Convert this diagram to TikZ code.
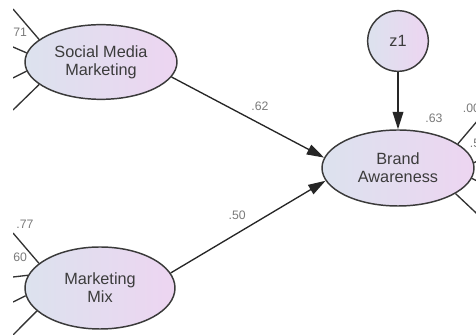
\documentclass[tikz,border=0pt]{standalone}
\usepackage{fontspec}
\setmainfont{Liberation Sans}
\usetikzlibrary{shapes.geometric,arrows.meta}

\definecolor{lvblue}{HTML}{DCE2EE}
\definecolor{lvpink}{HTML}{EDD5F1}
\definecolor{rim}{HTML}{3A3A3A}
\definecolor{txtgray}{HTML}{3C3C3C}
\definecolor{coefgray}{HTML}{7A7A7A}

\begin{document}
\begin{tikzpicture}[x=0.75pt,y=0.75pt]

\tikzstyle{latent}=[
  ellipse,
  draw=rim,
  line width=1.1pt,
  left color=lvblue,
  right color=lvpink,
  text=txtgray,
  align=center,
  inner sep=0pt,
  font=\fontsize{12.2}{13.5}\selectfont]

\tikzstyle{errterm}=[
  circle,
  draw=rim,
  line width=1.1pt,
  left color=lvblue,
  right color=lvpink,
  text=txtgray,
  minimum size=45.5pt,
  inner sep=0pt,
  font=\fontsize{12.2}{13.5}\selectfont]

\tikzstyle{coef}=[text=coefgray, inner sep=1pt, font=\fontsize{9.2}{10}\selectfont]

\tikzstyle{regline}=[draw=black!85, line width=1pt, -{Triangle[length=13pt,width=8pt]}]

\tikzstyle{loadline}=[draw=black!80, line width=1pt]

% frame
\useasboundingbox (0,0) rectangle (476,335);
\clip (13,0) rectangle (476,335);

% define points
\path
  (101,273) coordinate(C1)
  (100,47) coordinate(C2)
  (398,167) coordinate(C3)
  (398,294) coordinate(C4)
  (13,326) coordinate(S1)
  (13,288) coordinate(S2)
  (13,257) coordinate(S3)
  (13,225) coordinate(S4)
  (13,102) coordinate(M1)
  (13,58) coordinate(M2)
  (13,33) coordinate(M3)
  (13,0) coordinate(M4)
  (490,229) coordinate(B1)
  (490,180.5) coordinate(B2)
  (490,147.5) coordinate(B3)
  (490,109) coordinate(B4)
  ;

\node[latent, minimum width=114pt, minimum height=56pt] (SMM) at (C1) {Social Media\\Marketing};
\node[latent, minimum width=112.5pt, minimum height=61.5pt] (MM) at (C2) {Marketing\\Mix};
\node[latent, minimum width=114pt, minimum height=57pt] (BA) at (C3) {Brand\\Awareness};
\node[errterm] (Z1) at (C4) {z1};

% draw lines
\draw[loadline]
  (SMM.160) -- (S1)
  (SMM.173) -- (S2)
  (SMM.187) -- (S3)
  (SMM.200) -- (S4)
  (MM.158) -- (M1)
  (MM.170) -- (M2)
  (MM.186) -- (M3)
  (MM.200) -- (M4)
  (BA.22) -- (B1)
  (BA.4) -- (B2)
  (BA.-8) -- (B3)
  (BA.-24) -- (B4)
  ;

\draw[regline] (Z1) -- (BA);
\draw[regline] (SMM.-12) -- node[coef, pos=0.58, above=8pt] (W1) {.62} (BA.172);
\draw[regline] (MM.12) -- node[coef, pos=0.43, above=8.5pt] (W2) {.50} (BA.190);

\node[coef] (R63) at (434,217) {.63};
\node[coef] (R71) at (18.5,303) {.71};
\node[coef] (R77) at (25,111) {.77};
\node[coef] (R60) at (18.5,78) {.60};
\node[coef] (R00) at (471.5,227) {.00};
\node[coef] (R5) at (475,192) {.5};

\end{tikzpicture}
\end{document}
